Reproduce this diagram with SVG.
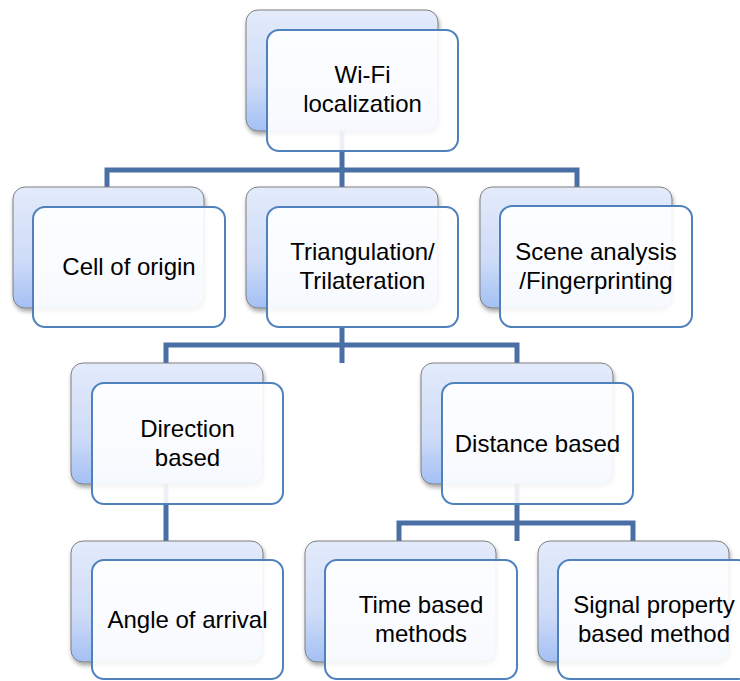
<svg xmlns="http://www.w3.org/2000/svg" width="740" height="681" viewBox="0 0 740 681">
<defs>
<linearGradient id="g" x1="0" y1="0" x2="0" y2="1">
<stop offset="0" stop-color="#e3ebfb"/>
<stop offset="0.6" stop-color="#cfdcf8"/>
<stop offset="1" stop-color="#a3c0f4"/>
</linearGradient>
<filter id="sh" x="-10%" y="-10%" width="125%" height="130%">
<feDropShadow dx="1" dy="3" stdDeviation="2" flood-color="#000" flood-opacity="0.35"/>
</filter>
</defs>
<style>
.b{fill:url(#g);stroke:#7f7f7f;stroke-width:1;filter:url(#sh)}
.f{fill:#ffffff;fill-opacity:0.9;stroke:#4f81bd;stroke-width:2}
.c{fill:none;stroke:#4a6fa5;stroke-width:5}
text{font-family:"Liberation Sans",Arial,sans-serif;font-size:24px;fill:#000;text-anchor:middle}
</style>
<rect width="740" height="681" fill="#fff"/>
<g id="connectors">
<path class="c" d="M342 131 V187 M107 187 V170 H577 V187"/>
<path class="c" d="M342 327 V363 M166 363 V345 H517 V363"/>
<path class="c" d="M166 484 V541"/>
<path class="c" d="M517 484 V541 M399 541 V523 H633 V541"/>
</g>
<g id="wifi">
<rect class="b" x="246" y="10" width="192" height="121" rx="12"/>
<rect class="f" x="267" y="30" width="191" height="121" rx="12"/>
<text x="362.5" y="83">Wi-Fi</text>
<text x="362.5" y="112">localization</text>
</g>
<g id="cell">
<rect class="b" x="13" y="187" width="191" height="121" rx="12"/>
<rect class="f" x="33" y="207" width="192" height="120" rx="12"/>
<text x="129" y="275">Cell of origin</text>
</g>
<g id="tri">
<rect class="b" x="246" y="187" width="192" height="121" rx="12"/>
<rect class="f" x="267" y="207" width="191" height="120" rx="12"/>
<text x="362.5" y="260">Triangulation/</text>
<text x="362.5" y="289">Trilateration</text>
</g>
<g id="scene">
<rect class="b" x="480" y="187" width="192" height="121" rx="12"/>
<rect class="f" x="500" y="206" width="192" height="121" rx="12"/>
<text x="596" y="260">Scene analysis</text>
<text x="596" y="289">/Fingerprinting</text>
</g>
<g id="direction">
<rect class="b" x="71" y="363" width="192" height="121" rx="12"/>
<rect class="f" x="92" y="383" width="191" height="121" rx="12"/>
<text x="187.5" y="437">Direction</text>
<text x="187.5" y="466">based</text>
</g>
<g id="distance">
<rect class="b" x="421" y="363" width="192" height="121" rx="12"/>
<rect class="f" x="442" y="383" width="191" height="121" rx="12"/>
<text x="537.5" y="452">Distance based</text>
</g>
<g id="angle">
<rect class="b" x="71" y="541" width="192" height="121" rx="12"/>
<rect class="f" x="92" y="560" width="191" height="119" rx="12"/>
<text x="187.5" y="628">Angle of arrival</text>
</g>
<g id="time">
<rect class="b" x="305" y="541" width="191" height="121" rx="12"/>
<rect class="f" x="325" y="560" width="192" height="119" rx="12"/>
<text x="421" y="613">Time based</text>
<text x="421" y="642">methods</text>
</g>
<g id="signal">
<rect class="b" x="538" y="541" width="191" height="121" rx="12"/>
<rect class="f" x="558" y="560" width="192" height="119" rx="12"/>
<text x="654" y="613">Signal property</text>
<text x="654" y="642">based method</text>
</g>
</svg>
